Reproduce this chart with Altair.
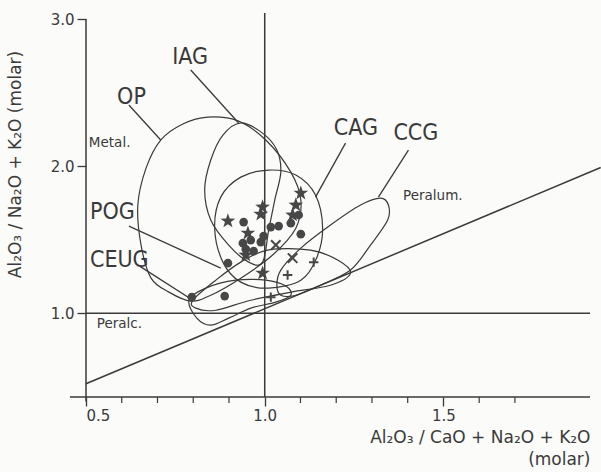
import altair as alt
import pandas as pd

INK = "#3a3a3a"
FONT = "DejaVu Sans"
NARROW = "Liberation Sans Narrow, DejaVu Sans Condensed, Liberation Sans, sans-serif"

# ---------------- data ----------------
# guide lines (axes, A/CNK = 1, A/NK = 1, A/NK = A/CNK)
guide_name = ["xaxis", "xaxis", "yaxis", "yaxis", "acnk1", "acnk1", "ank1", "ank1", "diag", "diag"]
guide_x = [0.455, 1.91, 0.5, 0.5, 1.0, 1.0, 0.5, 1.91, 0.5, 1.94]
guide_y = [0.43, 0.43, 0.40, 3.0, 0.43, 3.04, 1.0, 1.0, 0.52, 1.99]

minor_ticks = [0.6, 0.7, 0.8, 0.9, 1.1, 1.2, 1.3, 1.4, 1.6, 1.7]
x_major = [0.5, 1.0, 1.5]
y_major = [1.0, 2.0, 3.0]

# tectonic discrimination fields (outline vertices)
OP_x = [0.709, 0.771, 0.841, 0.927, 1.003, 1.073, 1.101, 1.087, 1.022, 0.933, 0.849, 0.793, 0.732, 0.682, 0.654, 0.645, 0.668]
OP_y = [2.177, 2.286, 2.333, 2.306, 2.177, 1.959, 1.769, 1.578, 1.395, 1.238, 1.122, 1.082, 1.143, 1.238, 1.463, 1.735, 1.986]

IAG_x = [0.933, 0.994, 1.034, 1.045, 1.028, 1.011, 0.994, 0.955, 0.899, 0.849, 0.832, 0.849, 0.883]
IAG_y = [2.293, 2.224, 2.109, 1.959, 1.769, 1.565, 1.347, 1.347, 1.463, 1.633, 1.837, 2.041, 2.211]

CAG_x = [1.011, 1.087, 1.142, 1.162, 1.145, 1.101, 1.011, 0.933, 0.883, 0.860, 0.877, 0.933]
CAG_y = [1.973, 1.939, 1.803, 1.578, 1.374, 1.224, 1.170, 1.211, 1.347, 1.578, 1.789, 1.925]

CCG_x = [1.045, 1.101, 1.184, 1.268, 1.324, 1.346, 1.344, 1.296, 1.240, 1.156, 1.087, 1.045, 1.034]
CCG_y = [1.293, 1.442, 1.599, 1.735, 1.782, 1.735, 1.633, 1.463, 1.293, 1.190, 1.122, 1.122, 1.190]

POG_x = [0.799, 0.863, 0.933, 1.008, 1.128, 1.204, 1.240, 1.184, 1.073, 0.961, 0.863, 0.807]
POG_y = [1.088, 1.224, 1.347, 1.429, 1.429, 1.361, 1.272, 1.190, 1.143, 1.088, 1.020, 1.034]

CEUG_x = [0.788, 0.835, 0.919, 1.003, 1.059, 1.073, 1.031, 0.961, 0.899, 0.849, 0.810]
CEUG_y = [1.088, 1.170, 1.224, 1.224, 1.184, 1.122, 1.075, 1.034, 0.966, 0.918, 0.966]

# leader lines from labels to fields
leader_name = ["OP", "OP", "IAG", "IAG", "CAG", "CAG", "CCG", "CCG", "POG", "POG", "CEUG", "CEUG"]
leader_x = [0.620, 0.709, 0.793, 0.927, 1.226, 1.142, 1.402, 1.318, 0.620, 0.877, 0.650, 0.799]
leader_y = [2.415, 2.177, 2.653, 2.293, 2.156, 1.789, 2.109, 1.789, 1.592, 1.306, 1.320, 1.088]

# field labels (left edge of each label)
field_label = ["OP", "IAG", "CAG", "CCG", "POG", "CEUG"]
field_label_x = [0.587, 0.741, 1.193, 1.360, 0.511, 0.511]
field_label_y = [2.469, 2.741, 2.259, 2.224, 1.687, 1.361]

# region labels
region_label = ["Metal.", "Peralc.", "Peralum."]
region_label_x = [0.508, 0.530, 1.387]
region_label_y = [2.156, 0.925, 1.796]

# samples
circle_x = [0.796, 0.888, 0.897, 0.941, 0.939, 0.947, 0.969, 0.989, 0.997, 1.017, 1.039, 1.073, 1.101, 1.095, 0.961]
circle_y = [1.109, 1.116, 1.340, 1.619, 1.476, 1.435, 1.422, 1.483, 1.524, 1.585, 1.592, 1.612, 1.537, 1.667, 1.497]

star_x = [0.897, 0.994, 0.989, 0.953, 0.947, 0.994, 1.101, 1.087, 1.078]
star_y = [1.626, 1.721, 1.673, 1.544, 1.395, 1.272, 1.816, 1.735, 1.667]

xmark_x = [1.031, 1.078]
xmark_y = [1.463, 1.374]

plus_x = [1.137, 1.064, 1.017]
plus_y = [1.347, 1.259, 1.109]

# ---------------- frames ----------------
guides = pd.DataFrame({"name": guide_name, "x": guide_x, "y": guide_y,
                       "o": list(range(len(guide_x)))})

fields = []
for nm, xs_, ys_ in [("OP", OP_x, OP_y), ("IAG", IAG_x, IAG_y), ("CAG", CAG_x, CAG_y),
                     ("CCG", CCG_x, CCG_y), ("POG", POG_x, POG_y), ("CEUG", CEUG_x, CEUG_y)]:
    for i, (a, b) in enumerate(zip(xs_, ys_)):
        fields.append({"name": nm, "x": a, "y": b, "o": i})
fields = pd.DataFrame(fields)

leaders = pd.DataFrame({"name": leader_name, "x": leader_x, "y": leader_y,
                        "o": list(range(len(leader_x)))})
flabels = pd.DataFrame({"t": field_label, "x": field_label_x, "y": field_label_y})
rlabels = pd.DataFrame({"t": region_label, "x": region_label_x, "y": region_label_y})
minor = pd.DataFrame({"x": minor_ticks})

circles = pd.DataFrame({"x": circle_x, "y": circle_y})
stars = pd.DataFrame({"x": star_x, "y": star_y})
xmarks = pd.DataFrame({"x": xmark_x, "y": xmark_y})
pluses = pd.DataFrame({"x": plus_x, "y": plus_y})

# ---------------- encodings ----------------
xs = alt.Scale(domain=[0.5, 1.91], nice=False, zero=False)
ys = alt.Scale(domain=[0.43, 3.0], nice=False, zero=False)

x_axis = alt.Axis(values=x_major, format=".1f", domain=False, grid=False,
                  tickSize=9, tickWidth=1.3, tickColor=INK,
                  labelFont=FONT, labelFontSize=15, labelColor=INK, labelPadding=2,
                  title=["Al₂O₃ / CaO + Na₂O + K₂O", "(molar)"],
                  titleAnchor="end", titleAlign="right", titleFont=FONT,
                  titleFontSize=17, titleFontWeight="normal", titleColor=INK,
                  titlePadding=6, titleLineHeight=22)
y_axis = alt.Axis(values=y_major, format=".1f", domain=False, grid=False,
                  tickSize=9, tickWidth=1.3, tickColor=INK,
                  labelFont=FONT, labelFontSize=15, labelColor=INK, labelPadding=3,
                  title="Al₂O₃ / Na₂O + K₂O   (molar)", titleFont=FONT, titleFontSize=17,
                  titleFontWeight="normal", titleColor=INK, titleAngle=270,
                  titleX=-71, titleY=145, titleAlign="center", titleBaseline="middle")

X = alt.X("x:Q", scale=xs, axis=x_axis)
Y = alt.Y("y:Q", scale=ys, axis=y_axis)

guide_layer = alt.Chart(guides).mark_line(stroke=INK, strokeWidth=1.5).encode(
    x=X, y=Y, detail="name:N", order="o:Q")

minor_layer = alt.Chart(minor).mark_rule(stroke=INK, strokeWidth=1.2).encode(
    x=X, y=alt.value(378), y2=alt.value(384))

field_layer = alt.Chart(fields).mark_line(
    stroke=INK, strokeWidth=1.2, interpolate="cardinal-closed").encode(
    x=X, y=Y, detail="name:N", order="o:Q")

leader_layer = alt.Chart(leaders).mark_line(stroke=INK, strokeWidth=1.3).encode(
    x=X, y=Y, detail="name:N", order="o:Q")

flabel_layer = alt.Chart(flabels).mark_text(
    font=NARROW, fontSize=23, color=INK, align="left", baseline="middle").encode(
    x=X, y=Y, text="t:N")

rlabel_layer = alt.Chart(rlabels).mark_text(
    font=FONT, fontSize=13.5, color=INK, align="left", baseline="middle").encode(
    x=X, y=Y, text="t:N")

MARK = "#474747"
circle_layer = alt.Chart(circles).mark_point(
    shape="circle", filled=True, size=75, color=MARK, opacity=1).encode(x=X, y=Y)

STAR = ("M0,-1L0.235,-0.324L0.951,-0.309L0.38,0.124L0.588,0.809L0,0.4"
        "L-0.588,0.809L-0.38,0.124L-0.951,-0.309L-0.235,-0.324Z")
star_layer = alt.Chart(stars).mark_point(
    shape=STAR, filled=True, size=240, color=MARK, opacity=1).encode(x=X, y=Y)

xmark_layer = alt.Chart(xmarks).mark_point(
    shape="M-1,-1L1,1M-1,1L1,-1", filled=False, size=90, stroke=MARK,
    strokeWidth=2, opacity=1).encode(x=X, y=Y)

plus_layer = alt.Chart(pluses).mark_point(
    shape="M-1,0L1,0M0,-1L0,1", filled=False, size=90, stroke=MARK,
    strokeWidth=2, opacity=1).encode(x=X, y=Y)

chart = alt.layer(
    guide_layer, minor_layer, field_layer, leader_layer,
    flabel_layer, rlabel_layer,
    circle_layer, star_layer, xmark_layer, plus_layer,
).properties(
    width=504, height=378,
    padding={"left": 86, "top": 19, "right": 11, "bottom": 75},
    autosize=alt.AutoSizeParams(type="none"),
    background="#fbfbf9",
).configure_view(stroke=None)

chart.save("out.html", embed_options={"renderer": "svg", "actions": False})
